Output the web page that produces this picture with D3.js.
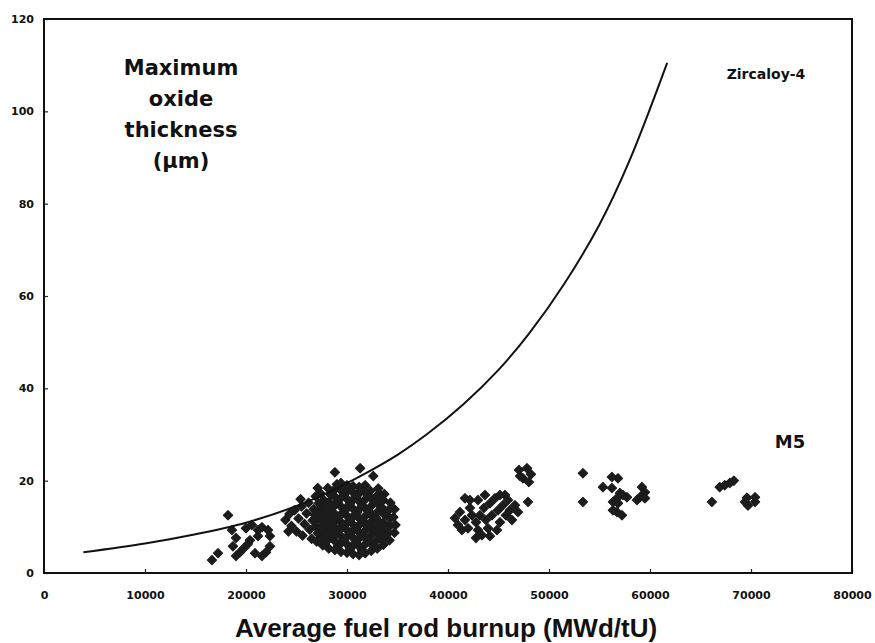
<!DOCTYPE html>
<html>
<head>
<meta charset="utf-8">
<script src="https://cdn.jsdelivr.net/npm/d3@7"></script>
<style>
  body { margin: 0; background: #fff; }
  svg { display: block; }
  .axis text { font-family: "DejaVu Sans", sans-serif; font-weight: bold; font-size: 11px; fill: #111; }
  .axis line { stroke: #222; stroke-width: 1.2; }
  .label { font-family: "DejaVu Sans", sans-serif; font-weight: bold; fill: #111; }
</style>
</head>
<body>
<div id="chart"></div>
<script>

// axis ticks
var xTicks = [0, 10000, 20000, 30000, 40000, 50000, 60000, 70000, 80000]
var yTicks = [0, 20, 40, 60, 80, 100, 120]

// Zircaloy-4 fitted curve
var zircaloyCurve = [
	[3900, 4.5], [10000, 6.4], [15000, 8.4], [20000, 10.9], [25000, 14.5],
	[28000, 17.3], [31000, 20.6], [35000, 25.6], [38000, 30.2], [41500, 36.5],
	[45000, 44], [48000, 51.8], [51500, 62.6], [55000, 75.5], [58000, 89.5], [61700, 110.5]
]

// M5 points, around 17-22 GWd/tU
var m5Low = [
	[16630, 2.8], [17230, 4.3], [18220, 12.5],
	[18610, 9.3], [19010, 7.6], [18710, 5.8], [19400, 4.5], [19010, 3.7], [19800, 5.4],
	[20200, 6.3], [20390, 7.1], [20000, 9.7], [20590, 10.4], [21190, 9.3], [21580, 9.9],
	[21190, 8.0], [20890, 4.3], [21580, 3.7], [21980, 4.5], [22370, 5.8], [22180, 9.3], [22370, 8.0]
]

// M5 points, the dense cloud at 24-35 GWd/tU
var m5Blob = [
	[23900, 11.5], [24200, 9.0], [24300, 12.8], [24500, 10.2], [24800, 13.6], [25000, 9.0],
	[25200, 11.8], [25400, 16.0], [25500, 14.4], [25600, 8.1], [25800, 10.6], [26000, 12.9],
	[26200, 15.2], [26300, 9.4], [26500, 7.4], [26600, 11.4], [26700, 13.8], [26900, 16.6],
	[27000, 6.8], [27100, 8.6], [26900, 10.1], [27100, 11.9], [27000, 13.3], [27200, 15.1], [27400, 17.2],
	[27600, 6.0], [27500, 7.8], [27700, 9.4], [27600, 11.0], [27800, 12.7], [27500, 14.2], [27700, 15.8],
	[28200, 5.3], [28100, 7.1], [28300, 8.9], [28200, 10.3], [28100, 12.2], [28300, 13.6], [28200, 15.4], [28400, 16.9], [28100, 18.4],
	[28800, 5.0], [28900, 6.7], [28700, 8.1], [28800, 9.9], [28900, 11.6], [28700, 13.0], [28800, 14.9], [28900, 16.3], [28700, 17.9], [29000, 19.2],
	[29400, 4.6], [29300, 6.3], [29500, 7.8], [29400, 9.7], [29300, 11.2], [29500, 12.9], [29400, 14.4], [29300, 16.1], [29500, 17.7], [29400, 19.5],
	[30000, 4.4], [30100, 6.0], [29900, 7.7], [30000, 9.3], [30100, 11.1], [29900, 12.6], [30000, 14.3], [30100, 15.8], [29900, 17.5], [30000, 19.0],
	[30600, 4.1], [30500, 5.8], [30700, 7.4], [30600, 9.2], [30500, 10.7], [30700, 12.4], [30600, 13.9], [30500, 15.7], [30700, 17.2], [30600, 18.8],
	[31200, 3.9], [31300, 5.5], [31100, 7.3], [31200, 8.8], [31300, 10.6], [31100, 12.1], [31200, 13.8], [31300, 15.3], [31100, 17.0], [31200, 18.6],
	[31800, 4.3], [31700, 6.0], [31900, 7.5], [31800, 9.2], [31700, 10.8], [31900, 12.5], [31800, 14.0], [31700, 15.7], [31900, 17.3], [31800, 19.0],
	[32400, 4.8], [32500, 6.3], [32300, 8.0], [32400, 9.6], [32500, 11.3], [32300, 12.8], [32400, 14.5], [32500, 16.0], [32300, 17.8],
	[33000, 5.3], [32900, 7.0], [33100, 8.5], [33000, 10.2], [32900, 11.8], [33100, 13.4], [33000, 15.1], [32900, 16.6], [33100, 18.3],
	[33600, 6.1], [33700, 7.6], [33500, 9.3], [33600, 10.9], [33700, 12.6], [33500, 14.1], [33600, 15.8], [33700, 17.1],
	[34200, 7.1], [34100, 8.7], [34300, 10.3], [34200, 11.9], [34100, 13.6], [34300, 15.2],
	[34700, 8.7], [34800, 10.4], [34600, 12.1], [34700, 13.8],
	[28500, 7.9], [28500, 11.1], [28600, 14.2], [28500, 17.3],
	[29100, 5.8], [29100, 9.0], [29200, 12.2], [29100, 15.4], [29200, 18.4],
	[29700, 7.0], [29700, 10.2], [29800, 13.5], [29700, 16.8],
	[30300, 5.2], [30300, 8.5], [30400, 11.8], [30300, 15.0], [30200, 18.2],
	[30900, 6.6], [30900, 9.9], [31000, 13.1], [30900, 16.4],
	[31500, 4.8], [31500, 8.1], [31600, 11.3], [31500, 14.6], [31400, 17.9],
	[32100, 6.8], [32100, 10.0], [32200, 13.3], [32100, 16.7],
	[32700, 5.7], [32700, 9.0], [32800, 12.1], [32700, 15.4],
	[33300, 7.5], [33300, 10.8], [33400, 14.0], [33300, 16.9],
	[27300, 9.8], [27300, 13.0], [27900, 8.3], [27900, 11.6], [27900, 14.9], [26800, 12.6], [33900, 9.8], [33900, 13.2],
	[27100, 18.4], [28800, 21.8], [31300, 22.7], [32600, 21.0]
]

// M5 points, 40-48 GWd/tU
var m5Mid = [
	[40690, 11.9], [41180, 13.2], [40990, 10.4], [41680, 11.5], [41980, 9.7], [42370, 12.5],
	[42170, 14.1], [42770, 11.0], [42970, 9.3], [43160, 12.5], [43560, 14.1], [43760, 11.5],
	[43360, 8.2], [43960, 9.7], [44350, 12.5], [44150, 15.1], [44650, 16.2], [44950, 13.6],
	[45140, 11.0], [44850, 9.3], [45440, 14.7], [45640, 16.9], [45940, 15.8], [46130, 13.6],
	[46330, 11.5], [45740, 12.5], [46630, 14.7], [46930, 13.2], [42170, 15.8], [41380, 9.3],
	[42770, 7.6], [44150, 8.0], [45140, 16.9], [43660, 16.9], [41680, 16.2], [42970, 15.8],
	[47030, 22.3], [47820, 22.7], [48210, 21.4], [47420, 20.5], [48010, 19.7], [47130, 21.0], [47920, 15.4]
]

// M5 points, 53-60 GWd/tU
var m5High = [
	[53360, 21.6], [53360, 15.4], [56230, 20.8], [55340, 18.6], [56230, 18.4], [56830, 20.5],
	[57020, 17.3], [56730, 16.2], [57320, 16.9], [56330, 15.4], [56830, 15.1], [57720, 16.4],
	[56330, 13.6], [57220, 12.5], [56730, 13.2], [59200, 18.6], [59500, 17.5], [59000, 16.4],
	[58710, 15.8], [59500, 16.2]
]

// M5 points, 66-71 GWd/tU
var m5Top = [
	[66130, 15.4], [66900, 18.6], [67400, 19.0], [67900, 19.5], [68300, 20.0],
	[69400, 15.4], [69700, 14.6], [70400, 16.4], [70400, 15.4], [69600, 16.3]
]

var width = 875
var height = 643
var margin = { top: 19, right: 23, bottom: 70, left: 44 }

var svg = d3.select("#chart")
	.append("svg")
	.attr("width", width)
	.attr("height", height)

var xScale = d3.scaleLinear()
	.domain([0, 80000])
	.range([margin.left, width - margin.right])

var yScale = d3.scaleLinear()
	.domain([0, 120])
	.range([height - margin.bottom, margin.top])

// ticks point inwards, labels below / left
var xAxis = d3.axisBottom(xScale)
	.tickValues(xTicks)
	.tickFormat(d3.format("d"))
	.tickSizeInner(-4)
	.tickSizeOuter(0)
	.tickPadding(18)

var yAxis = d3.axisLeft(yScale)
	.tickValues(yTicks)
	.tickSizeInner(-4)
	.tickSizeOuter(0)
	.tickPadding(10)

svg.append("g")
	.attr("class", "x axis")
	.attr("transform", "translate(0," + yScale(0) + ")")
	.call(xAxis)
	.call(function(g) { g.select(".domain").remove() })

svg.append("g")
	.attr("class", "y axis")
	.attr("transform", "translate(" + xScale(0) + ",0)")
	.call(yAxis)
	.call(function(g) { g.select(".domain").remove() })

// plot frame
svg.append("rect")
	.attr("x", xScale(0))
	.attr("y", yScale(120))
	.attr("width", xScale(80000) - xScale(0))
	.attr("height", yScale(0) - yScale(120))
	.attr("fill", "none")
	.attr("stroke", "#111")
	.attr("stroke-width", 2)

// scatter, square diamonds like the original markers
var diamondType = {
	draw: function(context, size) {
		var r = Math.sqrt(size / 2)
		context.moveTo(0, -r)
		context.lineTo(r, 0)
		context.lineTo(0, r)
		context.lineTo(-r, 0)
		context.closePath()
	}
}

var diamond = d3.symbol().type(diamondType).size(42)

var allPoints = m5Low.concat(m5Blob, m5Mid, m5High, m5Top)

svg.append("g")
	.selectAll("path")
	.data(allPoints)
	.enter()
	.append("path")
	.attr("d", diamond)
	.attr("transform", function(d) { return "translate(" + xScale(d[0]) + "," + yScale(d[1]) + ")"; })
	.attr("fill", "#1c1c1c")
	.attr("stroke", "#1c1c1c")
	.attr("stroke-width", 1.2)
	.attr("stroke-linejoin", "round")

// Zircaloy-4 curve
var line = d3.line()
	.x(function(d) { return xScale(d[0]); })
	.y(function(d) { return yScale(d[1]); })
	.curve(d3.curveCatmullRom.alpha(0.5))

svg.append("path")
	.datum(zircaloyCurve)
	.attr("d", line)
	.attr("fill", "none")
	.attr("stroke", "#111")
	.attr("stroke-width", 2)

// labels
var titleLines = ["Maximum", "oxide", "thickness", "(µm)"]

svg.append("g")
	.selectAll("text")
	.data(titleLines)
	.enter()
	.append("text")
	.attr("class", "label")
	.attr("x", 181)
	.attr("y", function(d, i) { return 75 + i * 31; })
	.attr("text-anchor", "middle")
	.style("font-size", "21px")
	.text(function(d) { return d; })

svg.append("text")
	.attr("class", "label")
	.attr("x", 766)
	.attr("y", 79)
	.attr("text-anchor", "middle")
	.style("font-size", "14px")
	.text("Zircaloy-4")

svg.append("text")
	.attr("class", "label")
	.attr("x", 790)
	.attr("y", 448)
	.attr("text-anchor", "middle")
	.style("font-size", "18px")
	.text("M5")

svg.append("text")
	.attr("class", "label")
	.attr("x", 446)
	.attr("y", 637)
	.attr("text-anchor", "middle")
	.style("font-family", "'Liberation Sans', Arial, sans-serif")
	.style("font-size", "26px")
	.text("Average fuel rod burnup (MWd/tU)")

</script>
</body>
</html>
